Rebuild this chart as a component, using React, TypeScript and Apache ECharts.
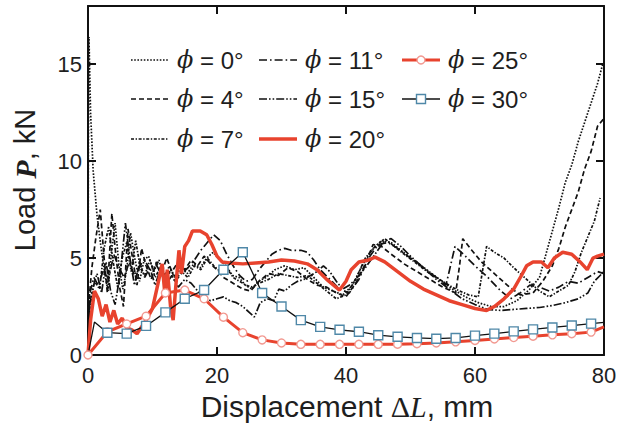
import React, { useEffect, useRef } from "react";
import * as echarts from "echarts";

// Axis ticks
const xTicks = [0, 20, 40, 60, 80];
const yTicks = [0, 5, 10, 15];

// Load–displacement records, [ΔL (mm), P (kN)]
const phi0 = [
  [0, 0], [0.05, 10], [0.15, 16.4], [0.4, 12.5], [0.8, 9.5], [1.4, 7.2], [2, 5.6], [2.6, 4.2], [3.1, 3.3],
  [3.6, 5.2], [4.2, 6.8], [4.8, 4.6], [5.4, 3.4], [6, 4.4], [6.6, 6.3], [7.3, 4.9], [8, 3.8], [8.7, 4.9],
  [9.4, 5.1], [10.2, 4.3], [11, 4.9], [11.8, 3.9], [12.6, 4.6], [13.5, 4.0], [14.4, 4.5], [15.4, 4.2],
  [16.4, 4.7], [17.4, 4.5], [18.4, 5.0], [19.4, 5.3], [20.4, 4.9], [21.4, 4.6], [22.4, 4.1], [23.4, 4.0],
  [24.4, 3.6], [25.4, 3.4], [26.4, 3.8], [27.6, 4.0], [29, 4.4], [30.5, 4.6], [32, 4.4], [33.5, 4.5],
  [35, 4.0], [36.5, 3.5], [38, 3.3], [39.5, 3.1], [41, 3.6], [42.5, 4.6], [44, 5.4], [45.5, 5.9], [47, 5.8],
  [48.5, 5.4], [50.5, 4.9], [52.5, 4.4], [54.5, 3.9], [56.5, 3.4], [58.5, 3.0], [60.5, 2.7], [62.5, 2.5],
  [64.5, 2.5], [66.5, 2.8], [68.5, 3.4], [70, 4.0], [71, 5.2], [72, 6.4], [73, 7.6], [74, 8.9], [75, 9.8],
  [76, 11.0], [77, 12.0], [78, 13.0], [79, 14.0], [79.8, 15.0],
];

const phi4 = [
  [0, 0], [0.2, 3.0], [0.6, 4.5], [1.2, 6.0], [1.9, 7.5], [2.5, 5.0], [3.0, 3.2], [3.7, 7.3], [4.3, 5.2],
  [4.9, 3.5], [5.5, 2.5], [6.2, 6.5], [6.9, 5.0], [7.6, 3.6], [8.3, 5.5], [9, 4.6], [9.8, 3.9], [10.6, 4.8],
  [11.4, 4.2], [12.2, 5.0], [13, 4.3], [14, 4.8], [15, 4.4], [16, 4.9], [17, 4.6], [18, 5.1], [19, 4.7],
  [20, 4.4], [21, 4.0], [22, 3.8], [23, 3.6], [24, 3.4], [25.2, 3.3], [26.5, 3.8], [28, 4.2], [29.5, 4.1],
  [31, 4.5], [32.5, 4.3], [34, 3.9], [35.5, 3.6], [37, 3.5], [38.5, 3.2], [40, 3.0], [41.5, 3.7], [43, 4.7],
  [44.2, 5.7], [45.5, 5.6], [47, 5.2], [49, 4.7], [51, 4.3], [53, 3.9], [55, 3.5], [57, 3.2], [57.6, 4.6],
  [58.1, 6.0], [59.5, 5.4], [61, 4.8], [63, 4.2], [65, 3.6], [67, 3.1], [69, 3.2], [70.5, 3.8], [72, 4.6],
  [73, 5.5], [74, 6.6], [75, 7.5], [76, 8.4], [77, 9.6], [78, 10.5], [79, 11.8], [80, 12.2],
];

const phi7 = [
  [0, 0], [0.3, 2.5], [1, 3.8], [1.8, 3.4], [2.5, 5.5], [3.2, 6.6], [3.9, 4.8], [4.6, 3.5], [5.3, 5.0],
  [6, 5.8], [6.7, 4.3], [7.4, 5.9], [8.1, 4.5], [8.8, 4.1], [9.6, 4.9], [10.4, 4.0], [11.2, 4.5], [12, 3.8],
  [12.8, 4.4], [13.6, 3.9], [14.5, 4.3], [15.5, 4.0], [16.5, 4.6], [17.5, 4.4], [18.5, 5.0], [19.5, 4.6],
  [20.5, 4.3], [21.5, 4.5], [22.5, 4.0], [23.5, 3.8], [24.5, 3.6], [25.5, 3.5], [26.5, 3.7], [28, 3.9],
  [29.5, 4.2], [31, 4.1], [32.5, 4.0], [34, 4.1], [35.5, 3.7], [37, 3.3], [38.5, 2.9], [40, 3.1], [41.5, 3.9],
  [43, 5.0], [44.5, 5.6], [46, 6.0], [47.5, 5.6], [49, 5.2], [51, 4.7], [53, 4.2], [55, 3.8], [57, 3.4],
  [59, 3.1], [60.5, 3.0], [61.2, 4.4], [61.8, 5.6], [63, 5.3], [64.5, 5.0], [66, 4.5], [68, 3.9], [70, 3.3],
  [71.5, 3.0], [73, 3.3], [74.5, 3.6], [75.5, 4.3], [76.5, 5.3], [77.5, 6.1], [78.5, 6.9], [79.4, 8.1],
];

const phi11 = [
  [0, 0], [0.3, 3.2], [0.9, 4.0], [1.6, 3.6], [2.4, 4.4], [3.2, 3.9], [4, 5.2], [4.8, 4.5], [5.6, 4.0],
  [6.4, 4.8], [7.2, 4.1], [8, 4.6], [8.8, 4.9], [9.6, 4.4], [10.5, 4.7], [11.5, 4.1], [12.5, 4.3],
  [13.5, 3.8], [14.5, 4.2], [15.5, 4.5], [16.5, 4.9], [17.5, 5.4], [18.5, 5.8], [19.5, 6.2], [20.5, 5.9],
  [21.5, 5.2], [22.5, 4.6], [23.5, 4.1], [24.5, 3.8], [25.5, 3.9], [26.5, 4.4], [27.5, 4.8], [28.5, 5.2],
  [29.5, 5.4], [30.5, 5.5], [31.5, 5.4], [33, 5.4], [34, 5.3], [35, 4.9], [36, 4.4], [37.5, 3.9], [39, 3.4],
  [40.5, 3.2], [42, 3.9], [43.5, 5.0], [45, 5.7], [46.5, 5.8], [48, 5.5], [50, 5.0], [52, 4.5], [54, 4.0],
  [55.5, 3.6], [56.2, 4.6], [56.9, 5.6], [58.5, 5.1], [60, 4.6], [62, 4.0], [64, 3.3], [65.5, 2.9], [67, 3.2],
  [68.5, 3.6], [70, 3.5], [71.5, 3.3], [73, 3.5], [74.5, 3.8], [76, 3.7], [77.5, 4.0], [79, 4.3], [80, 4.2],
];

const phi15 = [
  [0, 0], [0.2, 2.5], [0.7, 3.4], [1.4, 4.2], [2.1, 3.2], [2.8, 4.8], [3.5, 3.3], [4.2, 2.6], [5, 4.2],
  [5.8, 6.8], [6.5, 5.0], [7.2, 3.6], [8, 4.8], [8.8, 4.0], [9.6, 4.5], [10.4, 3.6], [11.2, 4.4], [12, 3.6],
  [13, 4.1], [14, 3.5], [15, 3.9], [16, 3.7], [17, 3.3], [18, 3.0], [19, 2.8], [20, 2.9], [21, 3.0],
  [22, 2.8], [23, 2.7], [24, 2.5], [25, 2.2], [25.8, 1.96], [26.7, 2.7], [27.8, 2.9], [28.8, 2.8],
  [29.6, 3.4], [30.5, 3.3], [31.5, 3.6], [32.5, 3.8], [33.5, 3.9], [34.5, 4.1], [35.5, 4.3], [36.5, 4.6],
  [37.5, 4.3], [38.5, 3.8], [39.5, 3.4], [40.5, 3.6], [41.5, 3.9], [43, 4.5], [44.5, 5.2], [46, 5.9],
  [47, 6.0], [48.5, 5.6], [50, 5.1], [52, 4.5], [54, 3.9], [56, 3.4], [58, 2.9], [60, 2.6], [62, 2.35],
  [64, 2.3], [66, 2.35], [68, 2.4], [70, 2.45], [72, 2.55], [74, 2.7], [76, 2.9], [77.5, 3.2], [78.5, 3.8],
  [80, 4.3],
];

const phi20 = [
  [0, 0], [0.4, 1.8], [1, 3.3], [1.6, 2.9], [2.2, 2.0], [2.8, 2.6], [3.4, 1.7], [4, 2.3], [4.6, 1.6],
  [5.3, 1.9], [6, 1.4], [6.8, 1.3], [7.6, 1.1], [8.4, 1.5], [9.2, 1.9], [10, 2.4], [10.8, 3.6], [11.5, 4.7],
  [11.9, 3.2], [12.3, 4.4], [12.8, 2.5], [13.2, 1.8], [13.6, 3.5], [14.1, 5.4], [14.5, 4.2], [15, 5.6],
  [15.6, 5.9], [16.2, 6.4], [17.4, 6.4], [18.4, 6.2], [19.2, 5.7], [20, 5.1], [20.8, 4.8], [22, 4.75],
  [24, 4.7], [26, 4.75], [28, 4.8], [30, 4.9], [32, 4.85], [34, 4.7], [35.5, 4.4], [37, 3.9], [39, 3.35],
  [40, 3.8], [40.8, 4.4], [42, 4.8], [43.5, 4.9], [44.5, 5.05], [46, 4.8], [48, 4.3], [50, 3.8], [52, 3.4],
  [54, 3.1], [56, 2.8], [58, 2.6], [60, 2.4], [61.8, 2.3], [63, 2.5], [64.5, 2.9], [66, 3.4], [67.2, 4.1],
  [68, 4.6], [69, 4.8], [70.3, 4.8], [71.3, 4.5], [72.3, 5.0], [73.6, 5.3], [75, 5.2], [76.3, 4.8],
  [77.4, 4.4], [78.3, 5.0], [79, 5.1], [80, 5.2],
];

const phi25 = [
  [0, 0], [3, 1.2], [6, 1.6], [9, 2.0], [12, 3.2], [15, 3.35], [18, 2.9], [21, 1.95], [24, 1.15],
  [27, 0.78], [30, 0.62], [33, 0.55], [36, 0.55], [39, 0.55], [42, 0.55], [45, 0.55], [48, 0.56],
  [51, 0.58], [54, 0.62], [57, 0.68], [60, 0.75], [63, 0.83], [66, 0.9], [69, 0.97], [72, 1.04],
  [75, 1.1], [78, 1.18], [80, 1.45],
];

const phi30 = [
  [0, 0], [1, 1.7], [3, 1.15], [6, 1.1], [9, 1.5], [12, 2.2], [15, 2.9], [18, 3.35], [21, 4.4], [24, 5.3],
  [27, 3.2], [30, 2.5], [33, 1.8], [36, 1.45], [39, 1.3], [42, 1.2], [45, 1.02], [48, 0.94], [51, 0.88],
  [54, 0.84], [57, 0.88], [60, 1.0], [63, 1.1], [66, 1.22], [69, 1.32], [72, 1.42], [75, 1.52], [78, 1.62],
  [80, 1.68],
];

const RED = "#e8432e";
const INK = "#111111";
const SANS = "Liberation Sans, Arial, sans-serif";
const SERIF = "DejaVu Serif, Liberation Serif, serif";

type Marker = "circle" | "rect" | undefined;
interface Curve {
  angle: number;
  data: number[][];
  color: string;
  width: number;
  dash: number[] | "solid";
  marker?: Marker;
  fill?: string;
  edge?: string;
}

const curves: Curve[] = [
  { angle: 0, data: phi0, color: INK, width: 1.7, dash: [1.6, 1.6] },
  { angle: 4, data: phi4, color: INK, width: 1.7, dash: [5, 3] },
  { angle: 7, data: phi7, color: INK, width: 1.7, dash: [3, 1.6, 1.4, 1.6] },
  { angle: 11, data: phi11, color: INK, width: 1.7, dash: [8, 3, 1.6, 3] },
  { angle: 15, data: phi15, color: INK, width: 1.7, dash: [8, 2, 1.6, 2, 1.6, 2] },
  { angle: 20, data: phi20, color: RED, width: 3.5, dash: "solid" },
  { angle: 25, data: phi25, color: RED, width: 3, dash: "solid", marker: "circle", fill: "#ffffff", edge: "#f29a92" },
  { angle: 30, data: phi30, color: INK, width: 1.3, dash: "solid", marker: "rect", fill: "#ffffff", edge: "#4f88a8" },
];

const label = (a: number) => `{p|ϕ} = ${a}°`;

function buildSeries() {
  return curves.map((c) => {
    const base: any = {
      name: label(c.angle),
      type: "line",
      xAxisIndex: 0,
      yAxisIndex: 0,
      clip: true,
      lineStyle: { color: c.color, width: c.width, type: c.dash },
      z: c.color === RED ? 4 : 3,
    };
    if (c.marker) {
      base.showSymbol = true;
      base.symbol = c.marker;
      base.symbolSize = c.marker === "rect" ? 9 : 8;
      base.itemStyle = { color: c.fill, borderColor: c.edge, borderWidth: 1.4 };
      base.z = 5;
      base.data = c.data.map(([x, y]) => ({
        value: [x, y],
        symbol: x % 3 === 0 && (c.marker === "circle" || x > 0) ? c.marker : "none",
      }));
    } else {
      base.showSymbol = false;
      base.symbol = "none";
      base.data = c.data;
    }
    return base;
  });
}

// Legend: three columns, filled top to bottom
const legendCols = [131, 259, 402];
const legendRows = [60, 99, 139];
const legendLine = 38;
const legendTextGap = 8;

function buildLegend() {
  const els: any[] = [];
  curves.forEach((c, i) => {
    const col = Math.floor(i / 3);
    const row = i % 3;
    const x0 = legendCols[col];
    const y = legendRows[row];
    els.push({
      type: "line",
      shape: { x1: x0, y1: y, x2: x0 + legendLine, y2: y },
      style: {
        stroke: c.color,
        lineWidth: c.width,
        lineDash: c.dash === "solid" ? null : c.dash,
      },
      z: 10,
    });
    if (c.marker === "circle") {
      els.push({
        type: "circle",
        shape: { cx: x0 + legendLine / 2, cy: y, r: 4 },
        style: { fill: c.fill, stroke: c.edge, lineWidth: 1.4 },
        z: 11,
      });
    } else if (c.marker === "rect") {
      els.push({
        type: "rect",
        shape: { x: x0 + legendLine / 2 - 4.5, y: y - 4.5, width: 9, height: 9 },
        style: { fill: c.fill, stroke: c.edge, lineWidth: 1.4 },
        z: 11,
      });
    }
    els.push({
      type: "text",
      x: x0 + legendLine + legendTextGap,
      y,
      style: {
        text: label(c.angle),
        fontFamily: SANS,
        fontSize: 24,
        fill: "#1e1e1e",
        verticalAlign: "middle",
        rich: {
          p: { fontFamily: SERIF, fontStyle: "italic", fontSize: 24, fill: "#1e1e1e" },
        },
      },
      z: 11,
    });
  });
  return els;
}

function buildTitles() {
  return [
    {
      type: "text",
      x: 347,
      y: 406,
      style: {
        text: "{a|Displacement }{d|Δ}{l|L}{a|, mm}",
        align: "center",
        verticalAlign: "middle",
        fill: "#1e1e1e",
        rich: {
          a: { fontFamily: SANS, fontSize: 30, fill: "#1e1e1e" },
          d: { fontFamily: "Liberation Serif, serif", fontSize: 30, fill: "#1e1e1e" },
          l: { fontFamily: "Liberation Serif, serif", fontStyle: "italic", fontSize: 30, fill: "#1e1e1e" },
        },
      },
    },
    {
      type: "text",
      x: 25,
      y: 180,
      rotation: Math.PI / 2,
      style: {
        text: "{a|Load }{p|P}{a|, kN}",
        align: "center",
        verticalAlign: "middle",
        fill: "#1e1e1e",
        rich: {
          a: { fontFamily: SANS, fontSize: 29, fill: "#1e1e1e" },
          p: { fontFamily: "Liberation Serif, serif", fontStyle: "italic", fontWeight: "bold", fontSize: 30, fill: "#1e1e1e" },
        },
      },
    },
  ];
}

const axisLine = { show: true, onZero: false, lineStyle: { color: INK, width: 2 } };
const axisTick = { show: true, inside: true, length: 8, lineStyle: { color: INK, width: 2 } };

export default function App() {
  const ref = useRef<HTMLDivElement>(null);

  useEffect(() => {
    if (!ref.current) return;
    const chart = echarts.init(ref.current, undefined, { renderer: "svg" });
    chart.setOption({
      animation: false,
      backgroundColor: "#ffffff",
      grid: { left: 88, right: 20, top: 6, bottom: 73, containLabel: false },
      xAxis: [
        {
          type: "value",
          min: xTicks[0],
          max: xTicks[xTicks.length - 1],
          interval: 20,
          position: "bottom",
          axisLine,
          axisTick,
          splitLine: { show: false },
          axisLabel: { color: "#1e1e1e", fontFamily: SANS, fontSize: 22, margin: 9 },
        },
        {
          type: "value",
          min: xTicks[0],
          max: xTicks[xTicks.length - 1],
          interval: 20,
          position: "top",
          axisLine,
          axisTick,
          splitLine: { show: false },
          axisLabel: { show: false },
        },
      ],
      yAxis: [
        {
          type: "value",
          min: 0,
          max: 18,
          interval: 5,
          position: "left",
          axisLine,
          axisTick,
          splitLine: { show: false },
          axisLabel: {
            color: "#1e1e1e",
            fontFamily: SANS,
            fontSize: 22,
            margin: 6,
            formatter: (v: number) => (yTicks.includes(v) ? String(v) : ""),
          },
        },
        {
          type: "value",
          min: 0,
          max: 18,
          interval: 5,
          position: "right",
          axisLine,
          axisTick,
          splitLine: { show: false },
          axisLabel: { show: false },
        },
      ],
      series: buildSeries(),
      graphic: [...buildLegend(), ...buildTitles()],
    });
    return () => chart.dispose();
  }, []);

  return (
    <div
      ref={ref}
      style={{ position: "fixed", left: 0, top: 0, width: 624, height: 428, background: "#fff" }}
    />
  );
}
